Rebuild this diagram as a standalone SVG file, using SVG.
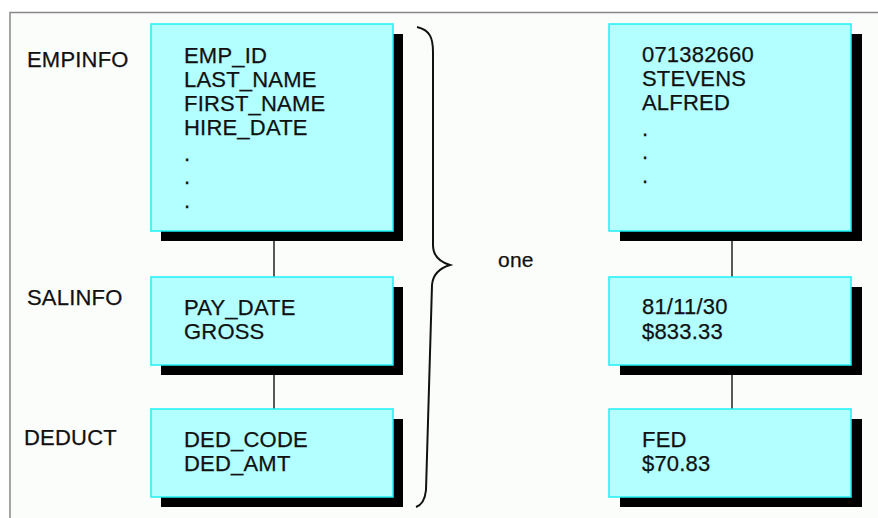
<svg xmlns="http://www.w3.org/2000/svg" width="878" height="518" viewBox="0 0 878 518">
<style>
.t{font-family:"Liberation Sans",Arial,sans-serif;font-size:22px;fill:#111;letter-spacing:0.2px;stroke:#111;stroke-width:0.25}
.box{fill:#b3ffff;stroke:#1ef0f5;stroke-width:1.5}
.sh{fill:#000}
.ln{stroke:#222;stroke-width:1.5;fill:none}
</style>
<rect x="0" y="0" width="878" height="518" fill="#ffffff"/>
<rect x="10" y="12.5" width="868" height="506" fill="#fbfdfb"/>
<path d="M10 518 V12.5 H878" fill="none" stroke="#888" stroke-width="1.5"/>
<g id="connectors">
<line class="ln" x1="274" y1="241" x2="274" y2="277"/>
<line class="ln" x1="274" y1="373" x2="274" y2="409"/>
<line class="ln" x1="732" y1="241" x2="732" y2="277"/>
<line class="ln" x1="732" y1="373" x2="732" y2="409"/>
</g>
<g id="brace">
<path d="M417 27 C430 30 433 38 433 52 L433 245 C433 256 440 262 450 265 C440 268 433 274 432 285 L426 490 C425 500 422 505 416 507" fill="none" stroke="#111" stroke-width="2"/>
<text class="t" x="498" y="267" style="font-size:21px">one</text>
</g>
<g id="empinfo">
<text class="t" x="27" y="67">EMPINFO</text>
<rect class="sh" x="161" y="34" width="242" height="207"/>
<rect class="box" x="151" y="24" width="242" height="207"/>
<text class="t" x="184" y="63">EMP_ID</text>
<text class="t" x="184" y="87">LAST_NAME</text>
<text class="t" x="184" y="111">FIRST_NAME</text>
<text class="t" x="184" y="135">HIRE_DATE</text>
<text class="t" x="184" y="161">.</text>
<text class="t" x="184" y="184">.</text>
<text class="t" x="184" y="208">.</text>
</g>
<g id="salinfo">
<text class="t" x="27" y="305">SALINFO</text>
<rect class="sh" x="161" y="287" width="242" height="88"/>
<rect class="box" x="151" y="277" width="242" height="88"/>
<text class="t" x="184" y="315">PAY_DATE</text>
<text class="t" x="184" y="339">GROSS</text>
</g>
<g id="deduct">
<text class="t" x="24" y="445">DEDUCT</text>
<rect class="sh" x="161" y="419" width="242" height="88"/>
<rect class="box" x="151" y="409" width="242" height="88"/>
<text class="t" x="184" y="447">DED_CODE</text>
<text class="t" x="184" y="471">DED_AMT</text>
</g>
<g id="empinfo-value">
<rect class="sh" x="620" y="34" width="242" height="207"/>
<rect class="box" x="609" y="24" width="242" height="207"/>
<text class="t" x="642" y="62">071382660</text>
<text class="t" x="642" y="86">STEVENS</text>
<text class="t" x="642" y="110">ALFRED</text>
<text class="t" x="642" y="136">.</text>
<text class="t" x="642" y="159">.</text>
<text class="t" x="642" y="183">.</text>
</g>
<g id="salinfo-value">
<rect class="sh" x="620" y="287" width="242" height="88"/>
<rect class="box" x="609" y="277" width="242" height="88"/>
<text class="t" x="642" y="314">81/11/30</text>
<text class="t" x="642" y="339">$833.33</text>
</g>
<g id="deduct-value">
<rect class="sh" x="620" y="419" width="242" height="88"/>
<rect class="box" x="609" y="409" width="242" height="88"/>
<text class="t" x="642" y="447">FED</text>
<text class="t" x="642" y="471">$70.83</text>
</g>
</svg>
